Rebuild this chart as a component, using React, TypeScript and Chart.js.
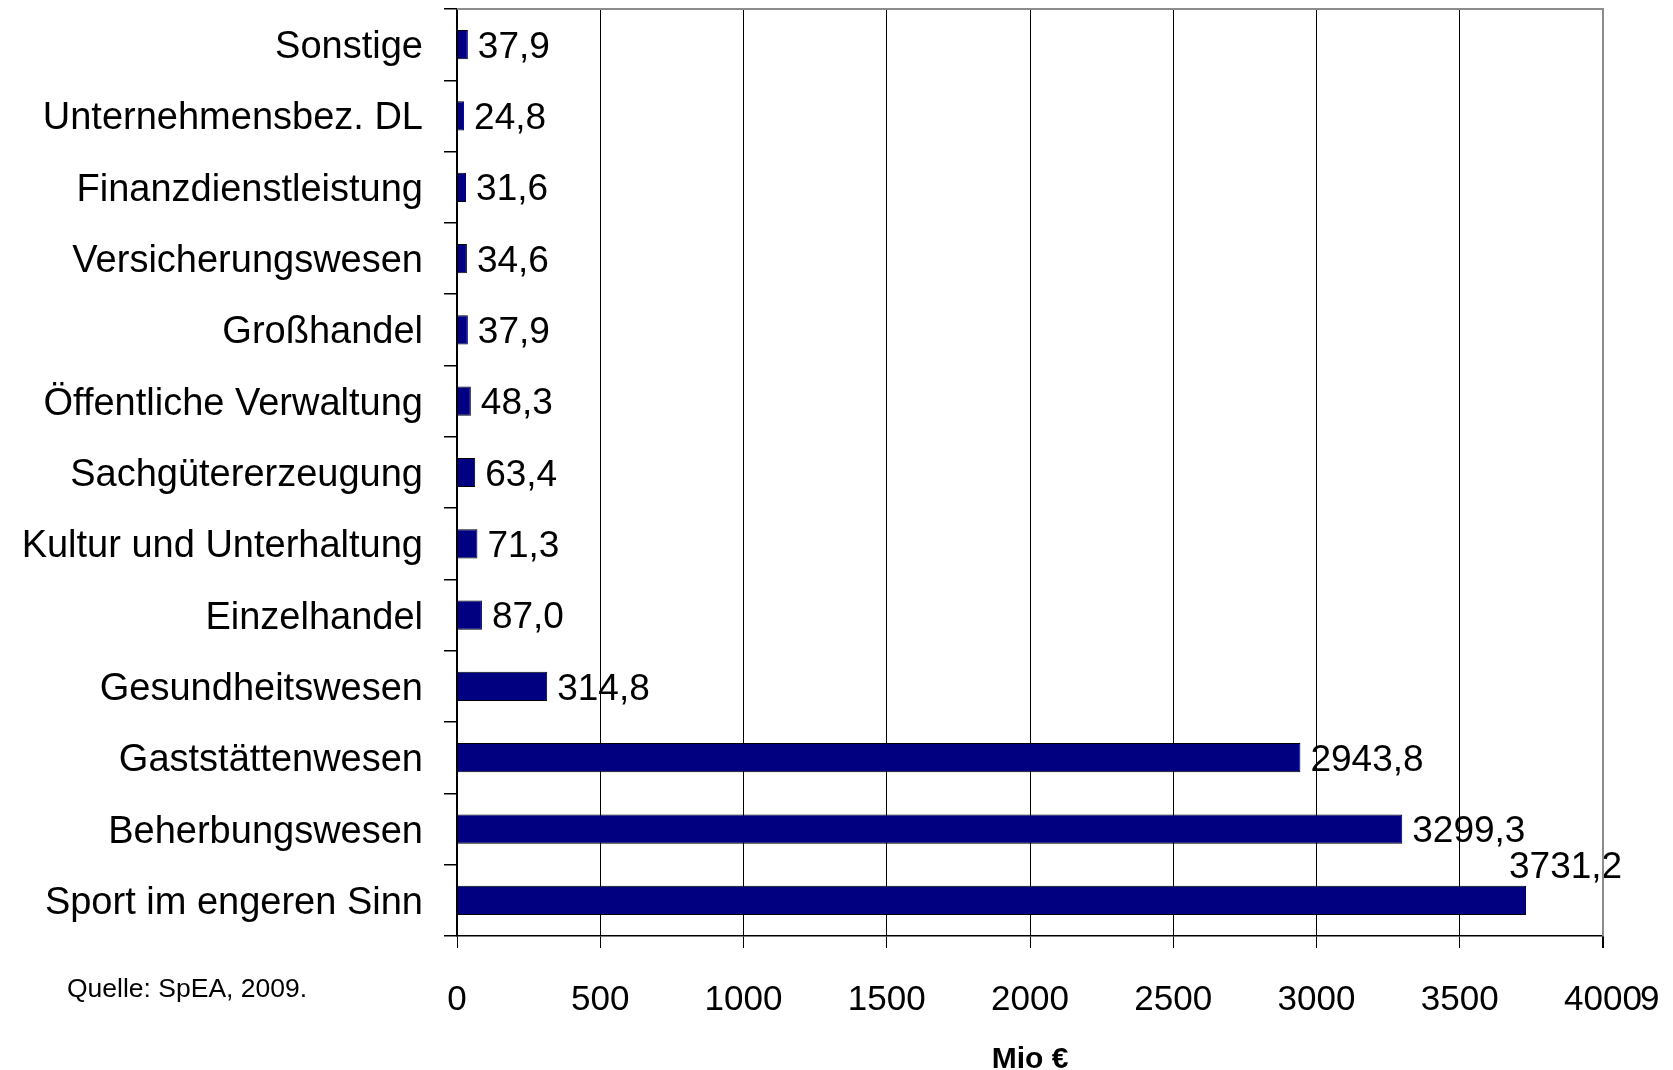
import React, { useEffect, useRef } from "react";
import { Chart, registerables } from "chart.js";

Chart.register(...registerables);

const categories = [
  "Sonstige",
  "Unternehmensbez. DL",
  "Finanzdienstleistung",
  "Versicherungswesen",
  "Großhandel",
  "Öffentliche Verwaltung",
  "Sachgütererzeugung",
  "Kultur und Unterhaltung",
  "Einzelhandel",
  "Gesundheitswesen",
  "Gaststättenwesen",
  "Beherbungswesen",
  "Sport im engeren Sinn",
];

const values = [37.9, 24.8, 31.6, 34.6, 37.9, 48.3, 63.4, 71.3, 87.0, 314.8, 2943.8, 3299.3, 3731.2];

const valueLabels = ["37,9", "24,8", "31,6", "34,6", "37,9", "48,3", "63,4", "71,3", "87,0", "314,8", "2943,8", "3299,3", "3731,2"];

const xMin = 0;
const xMax = 4000;
const xStep = 500;
const axisTitle = "Mio €";
const sourceNote = "Quelle: SpEA, 2009.";
const strayLabel = "9";

const FONT = "'Liberation Sans', Arial, Helvetica, sans-serif";

export default function App() {
  const ref = useRef<HTMLCanvasElement | null>(null);

  useEffect(() => {
    document.body.style.margin = "0";
    const canvas = ref.current;
    if (!canvas) return;

    const labelPlugin = {
      id: "extras",
      afterDatasetsDraw(chart: any) {
        const ctx = chart.ctx;
        const meta = chart.getDatasetMeta(0);
        ctx.save();
        ctx.font = `37px ${FONT}`;
        ctx.fillStyle = "#000";
        ctx.textAlign = "left";
        ctx.textBaseline = "middle";
        meta.data.forEach((bar: any, i: number) => {
          let x = bar.x + 10;
          let y = bar.y + 3;
          if (i === meta.data.length - 1) {
            x = bar.x - 17;
            y = bar.y - bar.height / 2 - 18;
          }
          ctx.fillText(valueLabels[i], x, y);
        });
        ctx.restore();
      },
      afterDraw(chart: any) {
        const ctx = chart.ctx;
        const area = chart.chartArea;
        const xs = chart.scales.x;
        ctx.save();
        ctx.strokeStyle = "#8c8c8c";
        ctx.lineWidth = 2;
        ctx.beginPath();
        ctx.moveTo(area.left, area.top);
        ctx.lineTo(area.right, area.top);
        ctx.lineTo(area.right, area.bottom);
        ctx.stroke();
        ctx.font = `35px ${FONT}`;
        ctx.fillStyle = "#000";
        ctx.textBaseline = "alphabetic";
        ctx.textAlign = "left";
        const w = ctx.measureText(String(xMax)).width;
        ctx.fillText(strayLabel, xs.getPixelForValue(xMax) + w / 2 - 2, 1010);
        ctx.font = `26.5px ${FONT}`;
        ctx.fillText(sourceNote, 67, 997);
        ctx.restore();
      },
    };

    const chart = new Chart(canvas, {
      type: "bar",
      data: {
        labels: categories,
        datasets: [
          {
            data: values,
            backgroundColor: "#000080",
            borderColor: "#000000",
            borderWidth: 1,
            barPercentage: 0.41,
            categoryPercentage: 1,
          },
        ],
      },
      options: {
        indexAxis: "y",
        responsive: false,
        animation: false,
        devicePixelRatio: 1,
        layout: { padding: { top: 9, right: 70, left: 0, bottom: 0 } },
        plugins: {
          legend: { display: false },
          tooltip: { enabled: false },
          title: { display: false },
        },
        scales: {
          x: {
            type: "linear",
            min: xMin,
            max: xMax,
            afterFit(scale: any) {
              scale.height = 134;
              scale.paddingLeft = 0;
              scale.paddingRight = 0;
            },
            ticks: {
              stepSize: xStep,
              color: "#000",
              font: { family: FONT, size: 35 },
              padding: 31,
              maxRotation: 0,
              callback: (v: any) => String(v),
            },
            grid: {
              color: (c: any) => (c.tick && c.tick.value === xMax ? "#8c8c8c" : "#000"),
              lineWidth: (c: any) => (c.tick && c.tick.value === xMax ? 2 : 1),
              tickColor: "#000",
              tickLength: 12,
              drawTicks: true,
            },
            border: { color: "#000", width: 1.5 },
            title: {
              display: true,
              text: axisTitle,
              color: "#000",
              font: { family: FONT, size: 30, weight: "bold", lineHeight: 0.7 },
              padding: { top: 0, bottom: 0 },
            },
          },
          y: {
            type: "category",
            afterFit(scale: any) {
              scale.width = 457;
              scale.paddingTop = 0;
              scale.paddingBottom = 0;
            },
            ticks: {
              color: "#000",
              font: { family: FONT, size: 38 },
              padding: 21,
              labelOffset: 3,
              autoSkip: false,
            },
            grid: {
              offset: true,
              drawOnChartArea: false,
              drawTicks: true,
              tickLength: 13,
              tickColor: "#000",
              lineWidth: 1.5,
            },
            border: { color: "#000", width: 1.5 },
          },
        },
      } as any,
      plugins: [labelPlugin],
    });

    return () => chart.destroy();
  }, []);

  return (
    <div style={{ width: 1673, height: 1070, position: "relative", background: "#fff" }}>
      <canvas ref={ref} width={1673} height={1070} style={{ display: "block" }} />
    </div>
  );
}
